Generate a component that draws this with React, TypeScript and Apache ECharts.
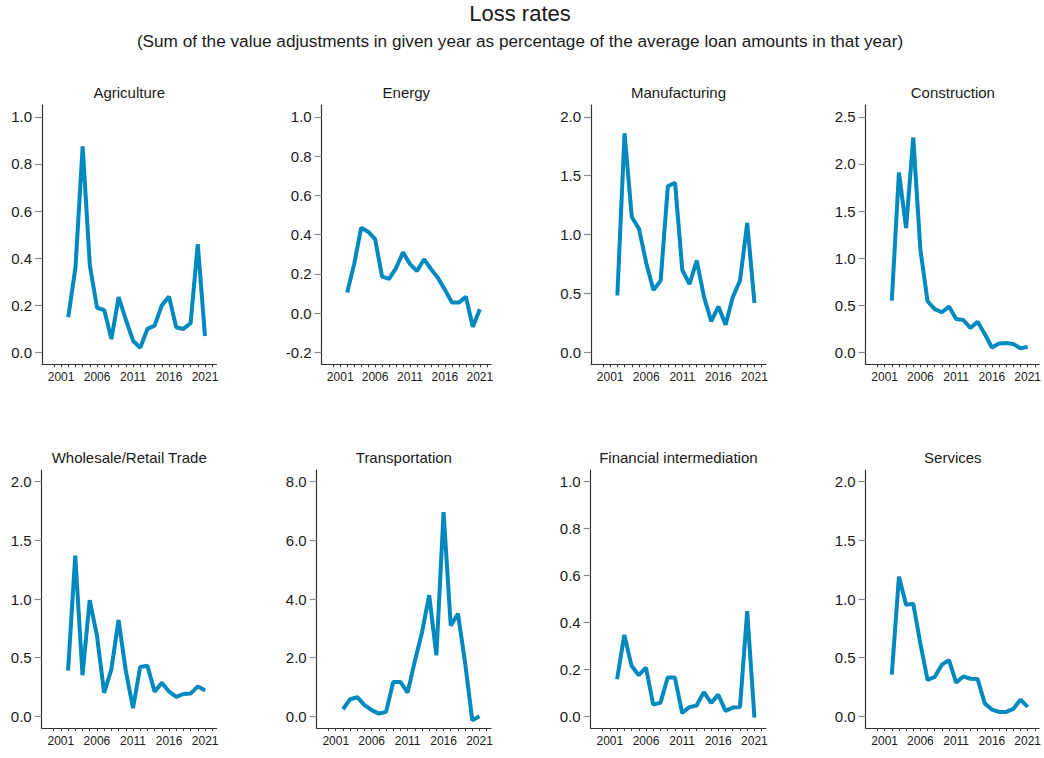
import React, { useEffect, useRef } from "react";
import * as echarts from "echarts";

const years = [2002, 2003, 2004, 2005, 2006, 2007, 2008, 2009, 2010, 2011, 2012, 2013, 2014, 2015, 2016, 2017, 2018, 2019, 2020, 2021];
const xTickYears = [2000, 2001, 2002, 2003, 2004, 2005, 2006, 2007, 2008, 2009, 2010, 2011, 2012, 2013, 2014, 2015, 2016, 2017, 2018, 2019, 2020, 2021, 2022];
const xLabelYears = [2001, 2006, 2011, 2016, 2021];

const categories = [
  "Agriculture",
  "Energy",
  "Manufacturing",
  "Construction",
  "Wholesale/Retail Trade",
  "Transportation",
  "Financial intermediation",
  "Services",
];

const agriculture = [0.15, 0.36, 0.875, 0.37, 0.19, 0.18, 0.057, 0.235, 0.14, 0.05, 0.02, 0.1, 0.114, 0.2, 0.237, 0.107, 0.1, 0.124, 0.46, 0.07];
const energy = [0.106, 0.25, 0.435, 0.415, 0.377, 0.186, 0.175, 0.23, 0.31, 0.25, 0.215, 0.275, 0.225, 0.18, 0.12, 0.055, 0.054, 0.084, -0.069, 0.02];
const manufacturing = [0.484, 1.86, 1.15, 1.05, 0.76, 0.53, 0.61, 1.41, 1.44, 0.7, 0.58, 0.78, 0.475, 0.265, 0.39, 0.235, 0.47, 0.61, 1.1, 0.42];
const construction = [0.55, 1.91, 1.32, 2.28, 1.09, 0.544, 0.46, 0.427, 0.487, 0.356, 0.345, 0.26, 0.327, 0.196, 0.053, 0.096, 0.1, 0.09, 0.046, 0.06];
const wholesaleRetail = [0.39, 1.37, 0.35, 0.99, 0.69, 0.2, 0.4, 0.82, 0.39, 0.07, 0.42, 0.43, 0.21, 0.285, 0.21, 0.165, 0.19, 0.195, 0.255, 0.22];
const transportation = [0.24, 0.58, 0.65, 0.38, 0.21, 0.09, 0.15, 1.17, 1.17, 0.81, 1.88, 2.86, 4.13, 2.08, 6.96, 3.09, 3.5, 1.82, -0.14, 0.0];
const financial = [0.158, 0.347, 0.215, 0.175, 0.207, 0.05, 0.057, 0.165, 0.165, 0.014, 0.039, 0.046, 0.103, 0.057, 0.092, 0.023, 0.037, 0.039, 0.448, -0.006];
const services = [0.356, 1.19, 0.95, 0.96, 0.62, 0.31, 0.335, 0.44, 0.478, 0.287, 0.34, 0.32, 0.318, 0.11, 0.057, 0.037, 0.037, 0.063, 0.142, 0.08];

const yTicksAgriculture = [0, 0.2, 0.4, 0.6, 0.8, 1.0];
const yTicksEnergy = [-0.2, 0, 0.2, 0.4, 0.6, 0.8, 1.0];
const yTicksManufacturing = [0, 0.5, 1.0, 1.5, 2.0];
const yTicksConstruction = [0, 0.5, 1.0, 1.5, 2.0, 2.5];
const yTicksWholesale = [0, 0.5, 1.0, 1.5, 2.0];
const yTicksTransportation = [0, 2.0, 4.0, 6.0, 8.0];
const yTicksFinancial = [0, 0.2, 0.4, 0.6, 0.8, 1.0];
const yTicksServices = [0, 0.5, 1.0, 1.5, 2.0];

const seriesValues = [agriculture, energy, manufacturing, construction, wholesaleRetail, transportation, financial, services];
const yTicks = [yTicksAgriculture, yTicksEnergy, yTicksManufacturing, yTicksConstruction, yTicksWholesale, yTicksTransportation, yTicksFinancial, yTicksServices];

const mainTitle = "Loss rates";
const subTitle = "(Sum of the value adjustments in given year as percentage of the average loan amounts in that year)";

// layout (pixels)
const gridBoxes = [
  { left: 42, top: 105, width: 174.5, height: 259.3 },
  { left: 321.7, top: 105, width: 169.3, height: 259.3 },
  { left: 591, top: 105, width: 175, height: 259.3 },
  { left: 865.7, top: 105, width: 174.3, height: 259.3 },
  { left: 41.7, top: 470, width: 175, height: 258 },
  { left: 316.7, top: 470, width: 174.3, height: 258 },
  { left: 590.7, top: 470, width: 175.3, height: 258 },
  { left: 865.7, top: 470, width: 174.3, height: 258 },
];

const FONT = "'Liberation Sans', Arial, sans-serif";
const LINE_COLOR = "#0089BE";
const AXIS_COLOR = "#333333";
const TEXT_COLOR = "#1a1a1a";

export default function App() {
  const ref = useRef<HTMLDivElement>(null);

  useEffect(() => {
    if (!ref.current) return;
    const chart = echarts.init(ref.current, undefined, { renderer: "svg" });

    const grid = gridBoxes.map((g) => ({ left: g.left, top: g.top, width: g.width, height: g.height, containLabel: false }));

    const xAxis = gridBoxes.map((_, i) => ({
      gridIndex: i,
      type: "value",
      min: 1998.35,
      max: 2022.6,
      splitLine: { show: false },
      axisLine: { show: true, onZero: false, lineStyle: { color: AXIS_COLOR, width: 1.2 } },
      axisTick: { show: true, length: 3, customValues: xTickYears, lineStyle: { color: AXIS_COLOR, width: 1 } },
      axisLabel: {
        customValues: xLabelYears,
        formatter: (v: number) => String(Math.round(v)),
        fontSize: 12,
        fontFamily: FONT,
        color: TEXT_COLOR,
        margin: 7,
      },
    }));

    const yAxis = yTicks.map((ticks, i) => {
      const lo = ticks[0];
      const hi = ticks[ticks.length - 1];
      const pad = (hi - lo) * 0.05;
      return {
        gridIndex: i,
        type: "value",
        min: lo - pad,
        max: hi + pad,
        splitLine: { show: false },
        axisLine: { show: true, onZero: false, lineStyle: { color: AXIS_COLOR, width: 1.2 } },
        axisTick: { show: true, length: 7, customValues: ticks, lineStyle: { color: "#8a8a8a", width: 1.2 } },
        axisLabel: {
          customValues: ticks,
          formatter: (v: number) => (Math.abs(v) < 1e-9 ? "0.0" : v.toFixed(1)),
          fontSize: 15,
          fontFamily: FONT,
          color: TEXT_COLOR,
          margin: 10,
        },
      };
    });

    const series = seriesValues.map((vals, i) => ({
      type: "line",
      name: categories[i],
      xAxisIndex: i,
      yAxisIndex: i,
      data: years.map((y, k) => [y, vals[k]]),
      showSymbol: false,
      symbol: "none",
      clip: false,
      lineStyle: { color: LINE_COLOR, width: 4 },
      itemStyle: { color: LINE_COLOR },
    }));

    const graphic: any[] = [
      {
        type: "text",
        x: 520,
        y: 13,
        style: { text: mainTitle, fontSize: 22, fontFamily: FONT, fill: TEXT_COLOR, align: "center", verticalAlign: "middle", textAlign: "center", textVerticalAlign: "middle" },
      },
      {
        type: "text",
        x: 520,
        y: 41,
        style: { text: subTitle, fontSize: 17.2, fontFamily: FONT, fill: TEXT_COLOR, align: "center", verticalAlign: "middle", textAlign: "center", textVerticalAlign: "middle" },
      },
    ];
    gridBoxes.forEach((g, i) => {
      graphic.push({
        type: "text",
        x: g.left + g.width / 2,
        y: i < 4 ? 92 : 457,
        style: { text: categories[i], fontSize: 15, fontFamily: FONT, fill: TEXT_COLOR, align: "center", verticalAlign: "middle", textAlign: "center", textVerticalAlign: "middle" },
      });
    });

    chart.setOption({
      animation: false,
      backgroundColor: "#ffffff",
      grid,
      xAxis,
      yAxis,
      series,
      graphic,
    } as any);

    return () => {
      chart.dispose();
    };
  }, []);

  return <div ref={ref} style={{ position: "fixed", left: 0, top: 0, width: 1044, height: 758 }} />;
}
